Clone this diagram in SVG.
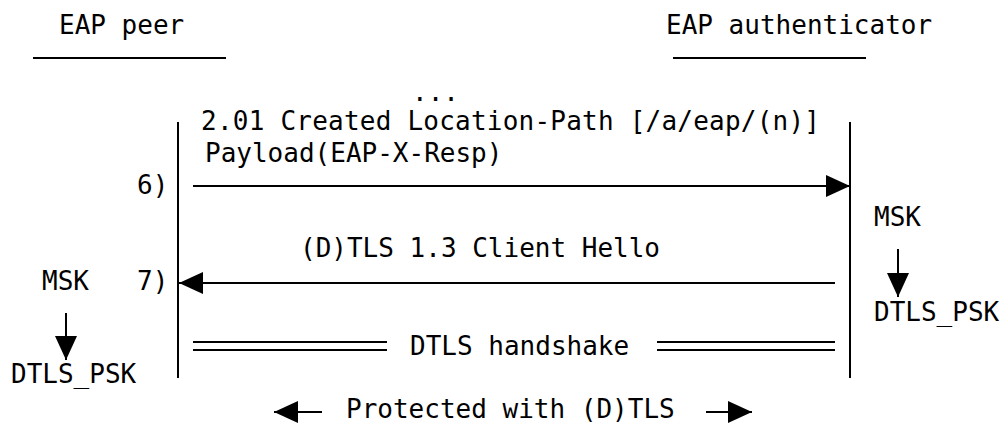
<svg xmlns="http://www.w3.org/2000/svg" width="1001" height="424" viewBox="0 0 1001 424">
<style>
text{font-family:"DejaVu Sans Mono","Liberation Mono",monospace;font-size:26px;fill:#000}
.ln{stroke:#000;stroke-width:2;fill:none}
</style>
<defs>
<marker id="ah" markerUnits="userSpaceOnUse" markerWidth="24" markerHeight="22" refX="24" refY="11" orient="auto">
<path d="M0,0 L24,11 L0,22 Z" fill="#000"/>
</marker>
</defs>
<rect width="1001" height="424" fill="#fff"/>
<g id="peer">
<text x="59" y="34">EAP peer</text>
<line class="ln" x1="33" y1="58" x2="226" y2="58"/>
<line class="ln" x1="178" y1="122" x2="178" y2="378"/>
<text x="42" y="290">MSK</text>
<text x="11" y="383">DTLS_PSK</text>
</g>
<g id="authenticator">
<text x="666" y="34">EAP authenticator</text>
<line class="ln" x1="673" y1="58" x2="866" y2="58"/>
<line class="ln" x1="850" y1="122" x2="850" y2="378"/>
<text x="874" y="226">MSK</text>
<text x="874" y="321">DTLS_PSK</text>
</g>
<g id="labels">
<text x="412" y="101">...</text>
<text x="201" y="130" textLength="619">2.01 Created Location-Path [/a/eap/(n)]</text>
<text x="205" y="162">Payload(EAP-X-Resp)</text>
<text x="137" y="194">6)</text>
<text x="300" y="257">(D)TLS 1.3 Client Hello</text>
<text x="137" y="290">7)</text>
<text x="410" y="355">DTLS handshake</text>
<text x="346" y="418">Protected with (D)TLS</text>
</g>
<g id="connectors">
<line class="ln" x1="193" y1="186" x2="850" y2="186" marker-end="url(#ah)"/>
<line class="ln" x1="835" y1="283" x2="179" y2="283" marker-end="url(#ah)"/>
<line class="ln" x1="898" y1="249" x2="898" y2="297" marker-end="url(#ah)"/>
<line class="ln" x1="66" y1="313" x2="66" y2="360" marker-end="url(#ah)"/>
<line class="ln" x1="193" y1="342" x2="387" y2="342"/>
<line class="ln" x1="193" y1="350" x2="387" y2="350"/>
<line class="ln" x1="657" y1="342" x2="835" y2="342"/>
<line class="ln" x1="657" y1="350" x2="835" y2="350"/>
<line class="ln" x1="322" y1="412" x2="274" y2="412" marker-end="url(#ah)"/>
<line class="ln" x1="706" y1="412" x2="752" y2="412" marker-end="url(#ah)"/>
</g>
</svg>
